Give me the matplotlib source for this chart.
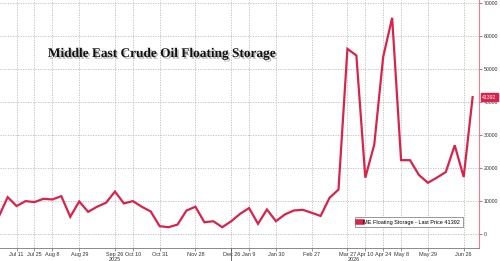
import matplotlib
matplotlib.use("Agg")
import matplotlib.pyplot as plt
import matplotlib.patheffects as pe
import matplotlib.dates as mdates
import pandas as pd

dates = pd.date_range("2025-06-27", periods=54, freq="7D")
values = [5150, 11100, 8400, 9900, 9600, 10600, 10400, 11400, 5150, 9800,
          6650, 8200, 9400, 12800, 9200, 9900, 8200, 6750, 2300, 2000,
          2800, 7050, 8200, 3500, 3800, 2000, 3800, 6050, 7800, 3030,
          7360, 3820, 5850, 7060, 7270, 6360, 5400, 10900, 13400, 56000,
          54000, 17000, 27000, 53600, 65400, 22300, 22300, 17800, 15450, 17000,
          18700, 26800, 17200, 41392]
tick_dates = ["2025-07-11", "2025-07-25", "2025-08-08", "2025-08-29", "2025-09-26",
              "2025-10-10", "2025-10-31", "2025-11-28", "2025-12-26", "2026-01-09",
              "2026-01-30", "2026-02-27", "2026-03-27", "2026-04-10", "2026-04-24",
              "2026-05-08", "2026-05-29", "2026-06-26"]
tick_labels = ["Jul 11", "Jul 25", "Aug 8", "Aug 29", "Sep 26", "Oct 10", "Oct 31",
               "Nov 28", "Dec 26", "Jan 9", "Jan 30", "Feb 27", "Mar 27", "Apr 10",
               "Apr 24", "May 8", "May 29", "Jun 26"]
y_ticks = [0, 10000, 20000, 30000, 40000, 50000, 60000, 70000]
title = "Middle East Crude Oil Floating Storage"
legend_label = "ME Floating Storage - Last Price 41392"
last_price = values[-1]

red = "#d9234b"
fs = 4.0
sans = "Liberation Sans"
fig = plt.figure(figsize=(5.0, 2.61), dpi=100)
ax = fig.add_axes([0.0, 13/261, 479/500, 248/261])

ax.plot(dates, values, color=red, lw=1.6, label=legend_label, solid_joinstyle="miter")

ax.set_xlim(pd.Timestamp("2025-06-28"), pd.Timestamp("2026-07-08"))
ax.set_ylim(-4300, 70800)

tds = pd.to_datetime(tick_dates)
ax.set_xticks(tds)
ax.set_xticklabels(tick_labels, fontsize=fs, color="#333333", family=sans)
ax.yaxis.tick_right()
ax.set_yticks(y_ticks)
ax.set_yticklabels([str(v) for v in y_ticks], fontsize=3.7, color="#333333", family=sans)
ax.tick_params(axis="x", length=2, width=0.5, color="#666666", pad=1)
ax.tick_params(axis="y", length=2, width=0.5, color=red, pad=1.5)

ax.grid(True, color="#bbbbbb", lw=0.6, ls=(0, (1.5, 1.5)))
for s in ["top", "left"]:
    ax.spines[s].set_visible(False)
ax.spines["right"].set_color("#e8808f")
ax.spines["right"].set_linewidth(0.8)
ax.spines["bottom"].set_color("#777777")
ax.spines["bottom"].set_linewidth(0.6)

# year labels
xt = ax.get_xaxis_transform()
ax.annotate("2025", xy=(mdates.date2num(pd.Timestamp("2025-09-26")), 0), xycoords=xt,
            xytext=(0, -8.0), textcoords="offset points", family=sans,
            ha="center", va="center", fontsize=fs, color="#333333")
ax.annotate("2026", xy=(mdates.date2num(pd.Timestamp("2026-04-01")), 0), xycoords=xt,
            xytext=(0, -8.0), textcoords="offset points", family=sans,
            ha="center", va="center", fontsize=fs, color="#333333")
sep = mdates.date2num(pd.Timestamp("2025-12-26"))
ax.plot([sep, sep], [0, -0.06], transform=xt, color="#555555", lw=0.6, clip_on=False)

# title inside
ax.text(0.1, 0.77, title, transform=ax.transAxes, fontsize=9.6, fontweight="bold",
        family="Liberation Serif", color="#111111",
        path_effects=[pe.withSimplePatchShadow(offset=(1.2, -1.2), shadow_rgbFace="#888888", alpha=0.6)])

# last price tag
ax.annotate(str(last_price), xy=(1.0, last_price), xycoords=("axes fraction", "data"),
            xytext=(2.2, 0), textcoords="offset points", ha="left", va="center",
            fontsize=3.7, color="white", family=sans,
            bbox=dict(boxstyle="square,pad=0.25", fc=red, ec=red))

leg = ax.legend(loc="lower right", bbox_to_anchor=(0.972, 0.072),
                prop={"family": sans, "size": fs},
                frameon=True, fancybox=False, handlelength=0.7, handletextpad=0.3,
                borderpad=0.5, edgecolor="#888888", framealpha=1)
leg.get_frame().set_linewidth(0.6)
for h in leg.legend_handles:
    h.set_linewidth(4)

fig.savefig("out.png", dpi=100)
